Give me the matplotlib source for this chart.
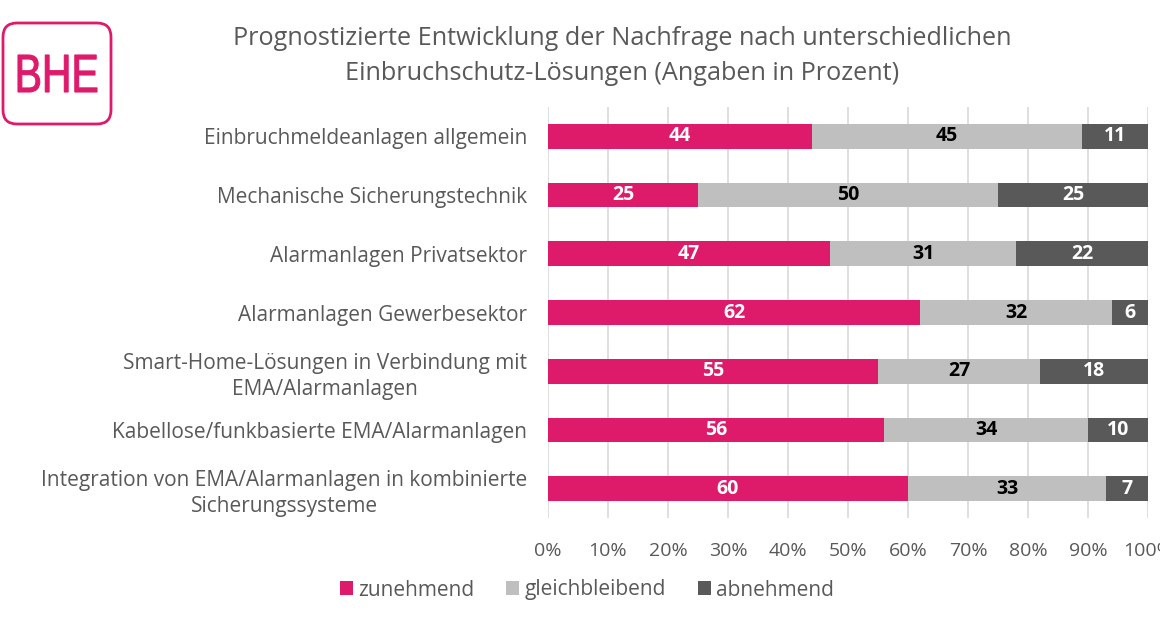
import matplotlib
matplotlib.use("Agg")
import matplotlib.pyplot as plt
from matplotlib.patches import FancyBboxPatch, Patch, PathPatch
from matplotlib.textpath import TextPath
from matplotlib.font_manager import FontProperties
from matplotlib.transforms import Affine2D, IdentityTransform
import numpy as np

categories = [
    "Einbruchmeldeanlagen allgemein",
    "Mechanische Sicherungstechnik",
    "Alarmanlagen Privatsektor",
    "Alarmanlagen Gewerbesektor",
    "Smart-Home-Lösungen in Verbindung mit\nEMA/Alarmanlagen",
    "Kabellose/funkbasierte EMA/Alarmanlagen",
    "Integration von EMA/Alarmanlagen in kombinierte\nSicherungssysteme",
]
zunehmend = [44, 25, 47, 62, 55, 56, 60]
gleichbleibend = [45, 50, 31, 32, 27, 34, 33]
abnehmend = [11, 25, 22, 6, 18, 10, 7]
series_names = ["zunehmend", "gleichbleibend", "abnehmend"]
xticks = [0, 10, 20, 30, 40, 50, 60, 70, 80, 90, 100]
title = "Prognostizierte Entwicklung der Nachfrage nach unterschiedlichen\nEinbruchschutz-Lösungen (Angaben in Prozent)"

plt.rcParams['font.family'] = ['Open Sans', 'DejaVu Sans']

PINK = "#DE1A6B"
LGRAY = "#BFBFBF"
DGRAY = "#595959"
TXT = "#595959"

W, H = 1160, 620
fig = plt.figure(figsize=(W/100, H/100), dpi=100)
ax = fig.add_axes([548/W, 1-518/H, 600/W, 411/H])

y = np.arange(len(categories))
h = 0.42
series = [zunehmend, gleichbleibend, abnehmend]
colors = [PINK, LGRAY, DGRAY]
label_colors = ["white", "black", "white"]
left = np.zeros(len(categories))
for vals, col, lc, name in zip(series, colors, label_colors, series_names):
    vals = np.array(vals, dtype=float)
    ax.barh(y, vals, left=left, height=h, color=col, label=name, zorder=3)
    for yi, l, v in zip(y, left, vals):
        ax.text(l + v/2, yi, f"{int(v)}", ha="center", va="center",
                color=lc, fontsize=14, fontweight="bold", zorder=4)
    left += vals

ax.set_xlim(0, 100)
ax.set_ylim(len(categories) - 0.5, -0.5)
ax.set_xticks(xticks)
ax.set_xticklabels([f"{t}%" for t in xticks], fontsize=14, color=TXT)
ax.set_yticks(y)
ax.set_yticklabels(categories, fontsize=15, color=TXT, multialignment="center",
                   linespacing=1.3)
ax.tick_params(axis="both", length=0)
ax.tick_params(axis="y", pad=15)
ax.tick_params(axis="x", pad=17)
ax.grid(axis="x", color="#D9D9D9", linewidth=1.2, zorder=0)
for s in ax.spines.values():
    s.set_visible(False)

fig.text(622/W, 1-56/H, title, ha="center", va="center", fontsize=18.2,
         color=TXT, linespacing=1.5)

# Logo (pixel coordinates, origin bottom-left)
logo = FancyBboxPatch((3, H-124), 108, 101,
                      boxstyle="round,pad=0,rounding_size=14",
                      transform=IdentityTransform(), facecolor="white",
                      edgecolor=PINK, linewidth=2)
fig.patches.append(logo)
tp = TextPath((0, 0), "BHE", size=40,
              prop=FontProperties(family="Liberation Sans", weight="normal"))
ext = tp.get_extents()
sx = 79 / ext.width
sy = 37 / ext.height
tr = Affine2D().translate(-ext.x0, -ext.y0).scale(sx, sy).translate(18, H-92)
fig.patches.append(PathPatch(tr.transform_path(tp), facecolor=PINK, edgecolor=PINK,
                             linewidth=0.8, transform=IdentityTransform()))

handles = [Patch(facecolor=c, label=n) for c, n in zip(colors, series_names)]
leg = fig.legend(handles=handles, loc="center", bbox_to_anchor=(587/W, 1-590/H),
                 ncol=3, frameon=False, fontsize=15, handlelength=0.62, handleheight=0.62,
                 handletextpad=0.25, columnspacing=1.55)
for t in leg.get_texts():
    t.set_color(TXT)

fig.savefig("out.png", dpi=100)
